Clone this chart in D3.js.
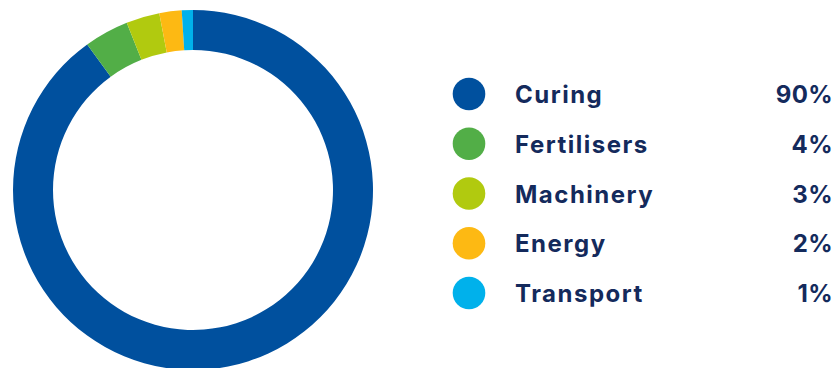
<!DOCTYPE html>
<html>
<head>
<meta charset="utf-8">
<script src="https://cdn.jsdelivr.net/npm/d3@7"></script>
<style>
  html, body { margin: 0; padding: 0; background: #fff; }
  svg { display: block; }
  text { font-family: "Inter", "Lato", sans-serif; font-weight: 700; fill: #142a5c; }
</style>
</head>
<body>
<svg id="chart" width="837" height="368"></svg>
<script>
// Emission sources, share of total (%)
const categories = ["Curing", "Fertilisers", "Machinery", "Energy", "Transport"];
const shares = [90, 4, 3, 2, 1];
const colors = ["#00509e", "#52ae47", "#b1ca0f", "#fdb913", "#00b1eb"];

const svg = d3.select("#chart");
const cx = 193, cy = 190, outerR = 180, innerR = 140;

const color = d3.scaleOrdinal().domain(categories).range(colors);

const pie = d3.pie().sort(null).value(d => d.value);
const arc = d3.arc().innerRadius(innerR).outerRadius(outerR);

const data = categories.map((c, i) => ({ name: c, value: shares[i] }));

svg.append("g")
  .attr("transform", `translate(${cx},${cy})`)
  .selectAll("path")
  .data(pie(data))
  .join("path")
  .attr("d", arc)
  .attr("fill", d => color(d.data.name));

// Legend
const rowY = d3.scalePoint().domain(categories).range([94, 293]);
const legend = svg.append("g");
const rows = legend.selectAll("g")
  .data(data)
  .join("g")
  .attr("transform", d => `translate(0,${rowY(d.name)})`);

rows.append("circle")
  .attr("cx", 469)
  .attr("r", 16.3)
  .attr("fill", d => color(d.name));

rows.append("text")
  .attr("x", 515)
  .attr("y", 9)
  .attr("font-size", 24)
  .attr("letter-spacing", 1.5)
  .text(d => d.name);

rows.append("text")
  .attr("x", 833)
  .attr("y", 9)
  .attr("font-size", 24)
  .attr("text-anchor", "end")
  .attr("letter-spacing", 0.4)
  .text(d => d.value + "%");
</script>
</body>
</html>
